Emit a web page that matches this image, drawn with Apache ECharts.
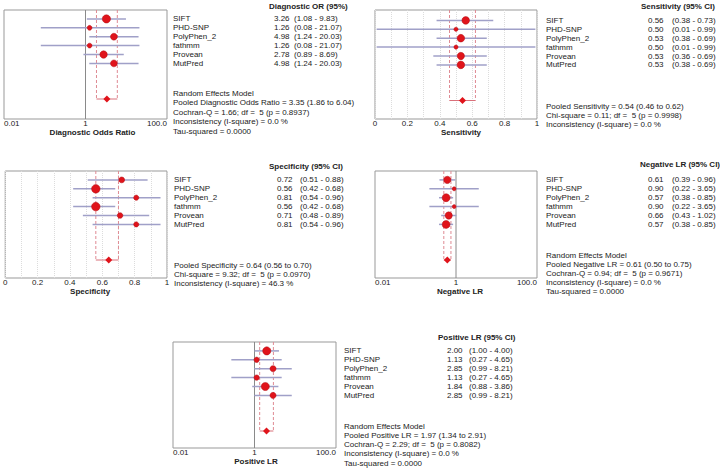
<!DOCTYPE html>
<html>
<head>
<meta charset="utf-8">
<script src="https://cdn.jsdelivr.net/npm/echarts@6/dist/echarts.min.js"></script>
<style>
  html, body { margin: 0; padding: 0; background: #fff; }
  #main { width: 720px; height: 468px; }
</style>
</head>
<body>
<div id="main"></div>
<script>
// ---- data ----
const studies = ['SIFT', 'PHD-SNP', 'PolyPhen_2', 'fathmm', 'Provean', 'MutPred'];

const dorEst = [3.26, 1.26, 4.98, 1.26, 2.78, 4.98];
const dorLo = [1.08, 0.08, 1.24, 0.08, 0.89, 1.24];
const dorHi = [9.83, 21.07, 20.03, 21.07, 8.69, 20.03];
const dorWeight = [25.5, 8.8, 17.9, 8.8, 21.1, 17.9];
const dorPooled = [3.35, 1.86, 6.04];
const dorSummary = [
  'Random Effects Model',
  'Pooled Diagnostic Odds Ratio = 3.35 (1.86 to 6.04)',
  'Cochran-Q = 1.66; df =  5 (p = 0.8937)',
  'Inconsistency (I-square) = 0.0 %',
  'Tau-squared = 0.0000'
];

const sensEst = [0.56, 0.50, 0.53, 0.50, 0.53, 0.53];
const sensLo = [0.38, 0.01, 0.38, 0.01, 0.36, 0.38];
const sensHi = [0.73, 0.99, 0.69, 0.99, 0.69, 0.69];
const sensWeight = [22.1, 6.6, 22.1, 6.6, 20.3, 22.1];
const sensPooled = [0.54, 0.46, 0.62];
const sensSummary = [
  'Pooled Sensitivity = 0.54 (0.46 to 0.62)',
  'Chi-square = 0.11; df =  5 (p = 0.9998)',
  'Inconsistency (I-square) = 0.0 %'
];

const specEst = [0.72, 0.56, 0.81, 0.56, 0.71, 0.81];
const specLo = [0.51, 0.42, 0.54, 0.42, 0.48, 0.54];
const specHi = [0.88, 0.68, 0.96, 0.68, 0.89, 0.96];
const specWeight = [13.0, 27.4, 10.2, 27.4, 11.8, 10.2];
const specPooled = [0.64, 0.56, 0.70];
const specSummary = [
  'Pooled Specificity = 0.64 (0.56 to 0.70)',
  'Chi-square = 9.32; df =  5 (p = 0.0970)',
  'Inconsistency (I-square) = 46.3 %'
];

const nlrEst = [0.61, 0.90, 0.57, 0.90, 0.66, 0.57];
const nlrLo = [0.39, 0.22, 0.38, 0.22, 0.43, 0.38];
const nlrHi = [0.96, 3.65, 0.85, 3.65, 1.02, 0.85];
const nlrWeight = [20.0, 6.0, 24.0, 6.0, 20.0, 24.0];
const nlrPooled = [0.61, 0.50, 0.75];
const nlrSummary = [
  'Random Effects Model',
  'Pooled Negative LR = 0.61 (0.50 to 0.75)',
  'Cochran-Q = 0.94; df =  5 (p = 0.9671)',
  'Inconsistency (I-square) = 0.0 %',
  'Tau-squared = 0.0000'
];

const plrEst = [2.00, 1.13, 2.85, 1.13, 1.84, 2.85];
const plrLo = [1.00, 0.27, 0.99, 0.27, 0.88, 0.99];
const plrHi = [4.00, 4.65, 8.21, 4.65, 3.86, 8.21];
const plrWeight = [25.0, 11.0, 14.1, 11.0, 25.0, 14.1];
const plrPooled = [1.97, 1.34, 2.91];
const plrSummary = [
  'Random Effects Model',
  'Pooled Positive LR = 1.97 (1.34 to 2.91)',
  'Cochran-Q = 2.29; df =  5 (p = 0.8082)',
  'Inconsistency (I-square) = 0.0 %',
  'Tau-squared = 0.0000'
];

const logTickValues = [0.01, 1, 100];
const logTickLabels = ['0.01', '1', '100.0'];
const linTickValues = [0, 0.2, 0.4, 0.6, 0.8, 1];
const linTickLabels = ['0', '0.2', '0.4', '0.6', '0.8', '1'];

// ---- layout / style ----
const FONT = '"Liberation Sans", Arial, sans-serif';
const TXT = '#222';
const RED = '#e0141b';
const ROW = 8.9; // px per row
const POOL_ROW = 10;

const panels = [
  { title: 'Diagnostic OR (95%)', axis: 'Diagnostic Odds Ratio', log: true, nameShift: 7,
    est: dorEst, lo: dorLo, hi: dorHi, w: dorWeight, pooled: dorPooled, summary: dorSummary,
    grid: [4, 10, 163, 109], shift: 0, titleXY: [269, 6], cols: [173, 274, 294], sumY: 93.3, sumStep: 9.5 },
  { title: 'Sensitivity (95% CI)', axis: 'Sensitivity', log: false, nameShift: 5,
    est: sensEst, lo: sensLo, hi: sensHi, w: sensWeight, pooled: sensPooled, summary: sensSummary,
    grid: [375, 10, 162, 109], shift: 1.5, titleXY: [641, 6], cols: [546, 648, 672], sumY: 106, sumStep: 9 },
  { title: 'Specificity (95% CI)', axis: 'Specificity', log: false, nameShift: 4,
    est: specEst, lo: specLo, hi: specHi, w: specWeight, pooled: specPooled, summary: specSummary,
    grid: [3, 171, 164, 107], shift: 0, titleXY: [269, 166.5], cols: [174, 277, 300], sumY: 265, sumStep: 9.2 },
  { title: 'Negative LR (95% CI)', axis: 'Negative LR', log: true, nameShift: 4,
    est: nlrEst, lo: nlrLo, hi: nlrHi, w: nlrWeight, pooled: nlrPooled, summary: nlrSummary,
    grid: [375, 171, 162, 107], shift: 0, titleXY: [640, 164], cols: [546, 648, 672], sumY: 255, sumStep: 9 },
  { title: 'Positive LR (95% CI)', axis: 'Positive LR', log: true, nameShift: 1.5,
    est: plrEst, lo: plrLo, hi: plrHi, w: plrWeight, pooled: plrPooled, summary: plrSummary,
    grid: [173, 342, 163, 106], shift: 0, titleXY: [438, 337.5], cols: [344, 447, 469], sumY: 426, sumStep: 9.3 }
];

function txt(text, x, y, bold) {
  return {
    type: 'text', x: x, y: y, silent: true,
    style: {
      text: text, fill: TXT, font: (bold ? 'bold ' : '') + '8px ' + FONT,
      textVerticalAlign: 'middle', verticalAlign: 'middle'
    }
  };
}

function tickFmt(values, labels) {
  return function (v) {
    for (let k = 0; k < values.length; k++) {
      if (Math.abs(v - values[k]) < values[k] * 1e-6 + 1e-9) return labels[k];
    }
    return '';
  };
}

function segment(a, b, style) {
  return { type: 'line', shape: { x1: a[0], y1: a[1], x2: b[0], y2: b[1] }, style: style };
}

const grids = [], xAxes = [], yAxes = [], series = [], graphics = [];

panels.forEach(function (p, i) {
  const [gl, gt, gw, gh] = p.grid;
  const yMin = -p.shift / ROW;
  const yMax = yMin + gh / ROW;
  grids.push({ left: gl, top: gt, width: gw, height: gh, show: true,
    borderColor: '#999', borderWidth: 1, backgroundColor: '#fff' });

  const labelCfg = { fontSize: 8, color: TXT, fontFamily: FONT, margin: 0 };
  const nameStyle = { fontSize: 8, fontWeight: 'bold', color: TXT, fontFamily: FONT,
    padding: [0, 0, 0, p.nameShift * 2] };
  if (p.log) {
    xAxes.push({
      gridIndex: i, type: 'log', logBase: 10, min: 0.01, max: 100,
      axisLine: { show: false }, axisTick: { show: false }, splitLine: { show: false },
      axisLabel: Object.assign({}, labelCfg, {
        formatter: tickFmt(logTickValues, logTickLabels),
        showMinLabel: true, showMaxLabel: true,
        alignMinLabel: 'left', alignMaxLabel: 'right'
      }),
      name: p.axis, nameLocation: 'middle', nameGap: 9, nameTextStyle: nameStyle
    });
  } else {
    xAxes.push({
      gridIndex: i, type: 'value', min: 0, max: 1, interval: 0.2,
      axisLine: { show: false }, axisTick: { show: false },
      splitLine: { show: true, lineStyle: { color: '#dcdcdc', type: 'dotted' } },
      minorTick: { show: false, splitNumber: 2 },
      minorSplitLine: { show: true, lineStyle: { color: '#dcdcdc', type: 'dotted' } },
      axisLabel: Object.assign({}, labelCfg, { formatter: tickFmt(linTickValues, linTickLabels) }),
      name: p.axis, nameLocation: 'middle', nameGap: 9, nameTextStyle: nameStyle
    });
  }
  yAxes.push({ gridIndex: i, type: 'value', min: yMin, max: yMax, inverse: true, show: false });

  // line of no effect (ratio = 1) on the log panels
  if (p.log) {
    series.push({
      type: 'custom', xAxisIndex: i, yAxisIndex: i, silent: true,
      encode: { x: 0 },
      data: [[1]],
      renderItem: function (params, api) {
        return segment(api.coord([api.value(0), yMin]), api.coord([api.value(0), yMax]),
          { stroke: '#8a8a8a', lineWidth: 1 });
      }
    });
  }

  // pooled estimate bracket (dashed CI bounds + horizontal bar)
  series.push({
    type: 'custom', xAxisIndex: i, yAxisIndex: i, silent: true,
    encode: { x: [0, 1], y: 2 },
    data: [[p.pooled[1], p.pooled[2], POOL_ROW]],
    renderItem: function (params, api) {
      const y = api.value(2);
      const a0 = api.coord([api.value(0), yMin]);
      const a1 = api.coord([api.value(0), y]);
      const b0 = api.coord([api.value(1), yMin]);
      const b1 = api.coord([api.value(1), y]);
      const dash = { stroke: '#df8a93', lineWidth: 1, lineDash: [3, 2] };
      return { type: 'group', children: [
        segment(a0, a1, dash),
        segment(b0, b1, dash),
        segment(a1, b1, { stroke: '#d9707a', lineWidth: 1 })
      ] };
    }
  });

  // study CI lines
  series.push({
    type: 'custom', xAxisIndex: i, yAxisIndex: i, silent: true,
    encode: { x: [0, 1], y: 2 },
    data: studies.map(function (s, k) { return [p.lo[k], p.hi[k], k + 1]; }),
    renderItem: function (params, api) {
      const y = api.value(2);
      return segment(api.coord([api.value(0), y]), api.coord([api.value(1), y]),
        { stroke: '#a0a0c8', lineWidth: 1.5 });
    }
  });

  // study point estimates
  series.push({
    type: 'scatter', xAxisIndex: i, yAxisIndex: i, silent: true,
    data: studies.map(function (s, k) { return [p.est[k], k + 1, p.w[k]]; }),
    symbolSize: function (v) { return 1.62 * Math.sqrt(v[2]); },
    itemStyle: { color: RED, borderColor: '#b00d12', borderWidth: 0.5, opacity: 1 }
  });

  // pooled diamond
  series.push({
    type: 'scatter', xAxisIndex: i, yAxisIndex: i, silent: true,
    symbol: 'diamond', symbolSize: [7, 7],
    data: [[p.pooled[0], POOL_ROW]],
    itemStyle: { color: RED, opacity: 1 }
  });

  // text table
  graphics.push(txt(p.title, p.titleXY[0], p.titleXY[1], true));
  studies.forEach(function (s, k) {
    const y = gt + p.shift + (k + 1) * ROW;
    graphics.push(txt(s, p.cols[0], y));
    graphics.push(txt(p.est[k].toFixed(2), p.cols[1], y));
    graphics.push(txt('(' + p.lo[k].toFixed(2) + ' - ' + p.hi[k].toFixed(2) + ')', p.cols[2], y));
  });
  p.summary.forEach(function (line, k) {
    graphics.push(txt(line, p.cols[0], p.sumY + k * p.sumStep));
  });
});

const chart = echarts.init(document.getElementById('main'), null, { renderer: 'svg' });
chart.setOption({
  backgroundColor: '#fff',
  animation: false,
  textStyle: { fontFamily: FONT },
  grid: grids,
  xAxis: xAxes,
  yAxis: yAxes,
  series: series,
  graphic: graphics
});
</script>
</body>
</html>
